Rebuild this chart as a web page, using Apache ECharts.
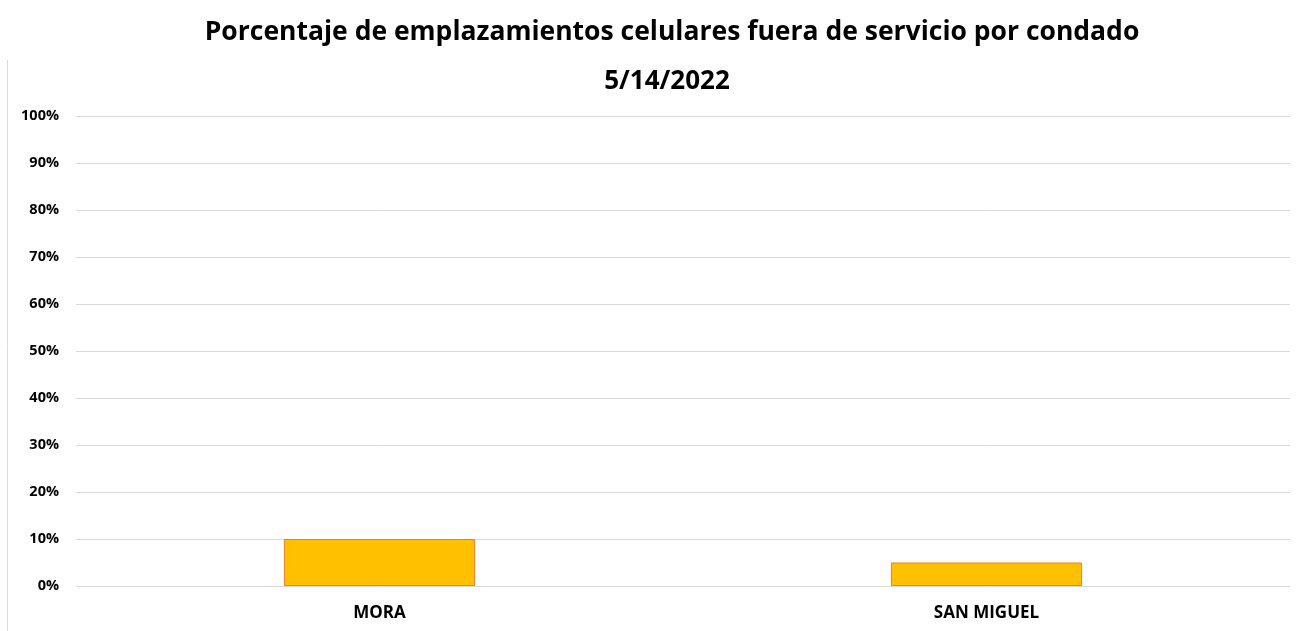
<!DOCTYPE html>
<html>
<head>
<meta charset="utf-8">
<script src="https://cdn.jsdelivr.net/npm/echarts@6/dist/echarts.min.js"></script>
<style>
  html, body { margin: 0; padding: 0; background: #fff; }
  #chart { width: 1300px; height: 631px; }
</style>
</head>
<body>
<div id="chart"></div>
<script>
// datos del gráfico
var condados = ['MORA', 'SAN MIGUEL']
var porcentajes = [10, 5]
var titulo = 'Porcentaje de emplazamientos celulares fuera de servicio por condado'
var fecha = '5/14/2022'

var myChart = echarts.init(document.getElementById('chart'))
var font = '"Open Sans", "Noto Sans", sans-serif'
myChart.setOption({
  animation: false,
  title: [
    {
      text: titulo,
      left: 667,
      textAlign: 'center',
      top: 14,
      textStyle: { fontFamily: font, fontWeight: 'bold', fontSize: 26.5, color: '#000' }
    },
    {
      text: fecha,
      left: 662,
      textAlign: 'center',
      top: 64,
      textStyle: { fontFamily: font, fontWeight: 'bold', fontSize: 26, color: '#000' }
    }
  ],
  graphic: [
    {
      type: 'line',
      shape: { x1: 7.5, y1: 60, x2: 7.5, y2: 631 },
      style: { stroke: '#d9d9d9', lineWidth: 1 }
    }
  ],
  grid: { left: 76, right: 10, top: 116, bottom: 45 },
  xAxis: {
    type: 'category',
    data: condados,
    axisLine: { show: false },
    axisTick: { show: false },
    axisLabel: { fontFamily: font, fontWeight: 'bold', fontSize: 17, color: '#000', margin: 19 }
  },
  yAxis: {
    type: 'value',
    min: 0,
    max: 100,
    interval: 10,
    axisLine: { show: false },
    axisTick: { show: false },
    splitLine: { lineStyle: { color: '#d9d9d9', width: 1 } },
    axisLabel: {
      fontFamily: font, fontWeight: 'bold', fontSize: 14.5, color: '#000', margin: 17,
      formatter: '{value}%'
    }
  },
  series: [
    {
      type: 'bar',
      data: porcentajes,
      barWidth: '31.5%',
      itemStyle: { color: '#FFC000', borderColor: '#ED7D31', borderWidth: 1 }
    }
  ]
})
</script>
</body>
</html>
